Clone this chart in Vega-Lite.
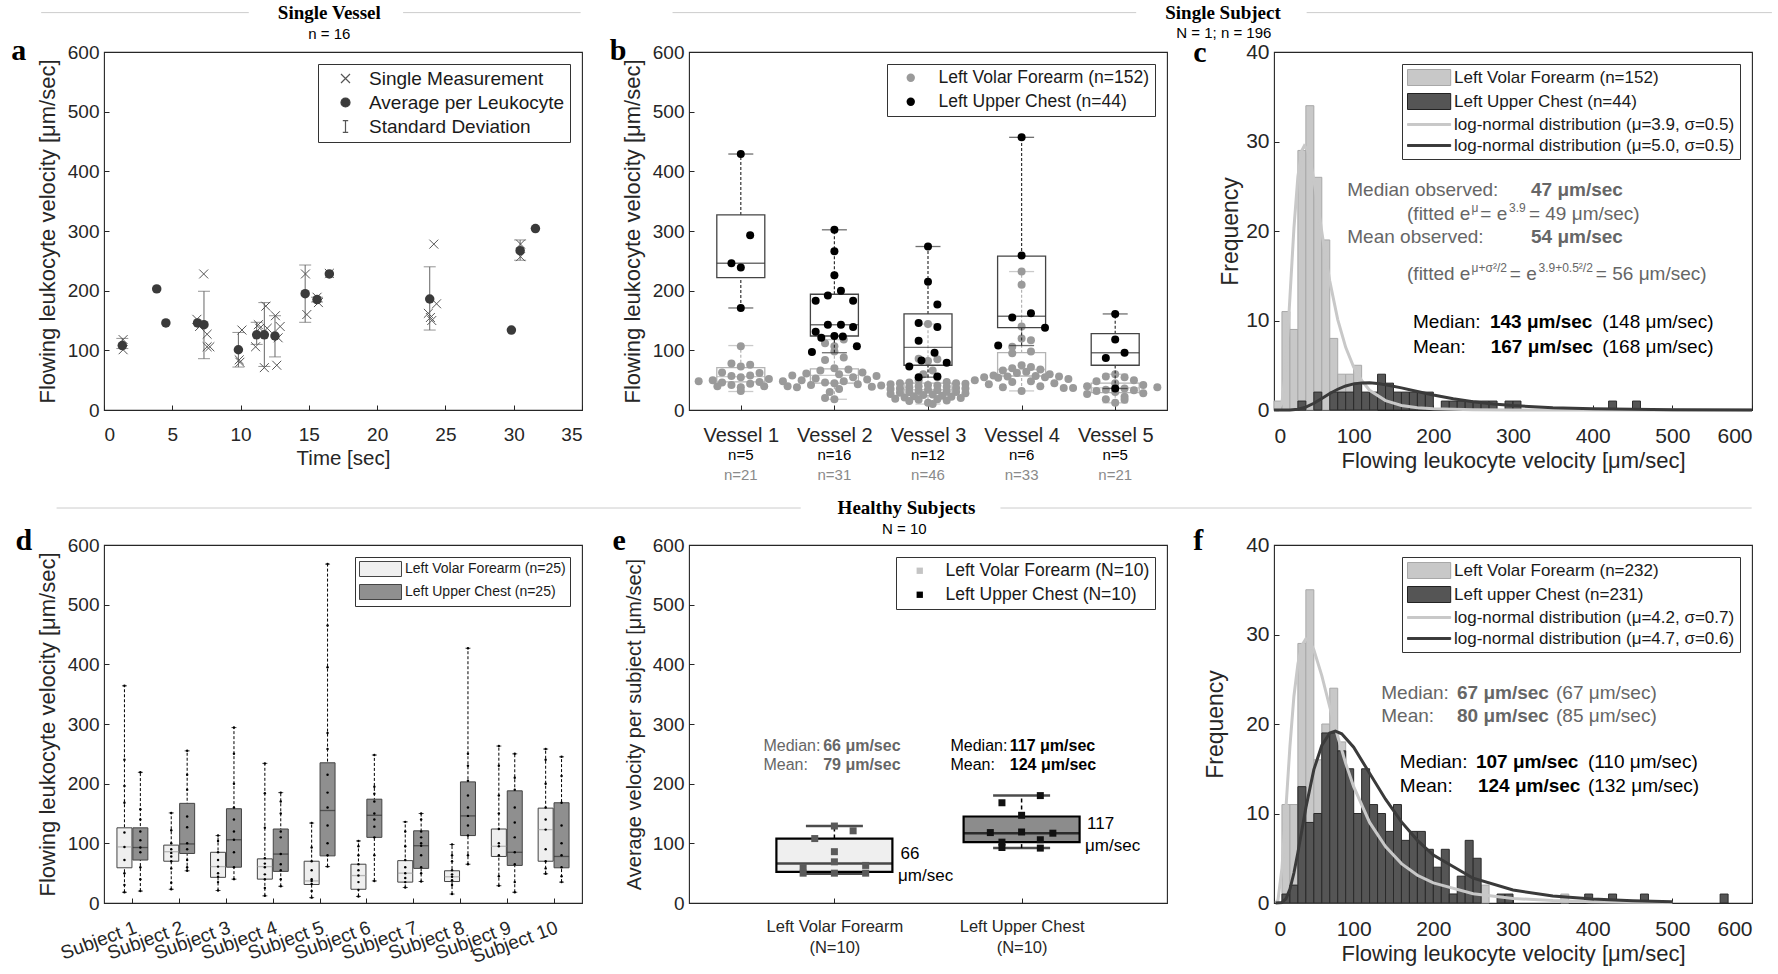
{
"$schema": "https://vega.github.io/schema/vega-lite/v6.json",
"background": "white",
"padding": {"left": 10, "top": 3, "right": 5, "bottom": 5},
"columns": 3,
"spacing": {"row": 135, "column": 107},
"bounds": "flush",
"resolve": {"scale": {"x": "independent", "y": "independent", "color": "independent", "shape": "independent", "fill": "independent", "stroke": "independent"}, "legend": {"color": "independent", "shape": "independent", "fill": "independent", "stroke": "independent"}, "axis": {"x": "independent", "y": "independent"}},
"datasets": {
"hl": [{"p":"a","x":-4.6,"x2":10.6,"y":666},{"p":"a","x":21.9,"x2":34.9,"y":666},{"p":"c","x":-755,"x2":-173,"y":44.4},{"p":"c","x":41,"x2":625,"y":44.4},{"p":"e","x":-3.155,"x2":0.82,"y":662},{"p":"e","x":1.887,"x2":5.9,"y":662}],
"hdr": [{"p":"a","k":"h","x":16.5,"y":666,"t":"Single Vessel"},{"p":"a","k":"s","x":16.5,"y":631,"t":"n = 16"},{"p":"c","k":"h","x":-64,"y":44.4,"t":"Single Subject"},{"p":"c","k":"s","x":-63,"y":42.1,"t":"N = 1; n = 196"},{"p":"e","k":"h","x":1.385,"y":662,"t":"Healthy Subjects"},{"p":"e","k":"s","x":1.374,"y":626,"t":"N = 10"},
{"p":"a","k":"L","x":-6.8,"y":586.6,"t":"a"},{"p":"b","k":"L","x":-0.40,"y":586.6,"t":"b"},{"p":"c","k":"L","x":-101.5,"y":38.85,"t":"c"},{"p":"d","k":"L","x":-1.5,"y":591.6,"t":"d"},{"p":"e","k":"L","x":-0.186,"y":591.6,"t":"e"},{"p":"f","k":"L","x":-101.5,"y":39.44,"t":"f"}],
"apts": [
{"x":1.34,"y":108,"k":"Average per Leukocyte"},{"x":3.86,"y":203,"k":"Average per Leukocyte"},{"x":4.53,"y":146,"k":"Average per Leukocyte"},{"x":6.85,"y":146,"k":"Average per Leukocyte"},{"x":7.32,"y":143,"k":"Average per Leukocyte"},{"x":9.84,"y":101,"k":"Average per Leukocyte"},{"x":11.18,"y":126,"k":"Average per Leukocyte"},{"x":11.74,"y":126,"k":"Average per Leukocyte"},{"x":12.52,"y":124,"k":"Average per Leukocyte"},{"x":14.73,"y":195,"k":"Average per Leukocyte"},{"x":15.6,"y":185,"k":"Average per Leukocyte"},{"x":16.5,"y":228,"k":"Average per Leukocyte"},{"x":23.85,"y":186,"k":"Average per Leukocyte"},{"x":29.83,"y":134,"k":"Average per Leukocyte"},{"x":30.47,"y":267,"k":"Average per Leukocyte"},{"x":31.59,"y":304,"k":"Average per Leukocyte"},
{"x":1.4,"y":118,"k":"Single Measurement"},{"x":1.4,"y":101,"k":"Single Measurement"},{"x":6.8,"y":152,"k":"Single Measurement"},{"x":7.0,"y":140,"k":"Single Measurement"},{"x":7.3,"y":228,"k":"Single Measurement"},{"x":7.55,"y":127,"k":"Single Measurement"},{"x":7.55,"y":106,"k":"Single Measurement"},{"x":7.75,"y":106,"k":"Single Measurement"},{"x":9.9,"y":84,"k":"Single Measurement"},{"x":9.95,"y":80,"k":"Single Measurement"},{"x":10.1,"y":134,"k":"Single Measurement"},{"x":11.1,"y":106,"k":"Single Measurement"},{"x":11.3,"y":143,"k":"Single Measurement"},{"x":11.4,"y":137,"k":"Single Measurement"},{"x":11.74,"y":71,"k":"Single Measurement"},{"x":11.85,"y":174,"k":"Single Measurement"},{"x":11.95,"y":137,"k":"Single Measurement"},{"x":12.55,"y":158,"k":"Single Measurement"},{"x":12.65,"y":75,"k":"Single Measurement"},{"x":12.75,"y":121,"k":"Single Measurement"},{"x":12.9,"y":140,"k":"Single Measurement"},{"x":14.75,"y":228,"k":"Single Measurement"},{"x":14.85,"y":160,"k":"Single Measurement"},{"x":15.6,"y":189,"k":"Single Measurement"},{"x":15.7,"y":180,"k":"Single Measurement"},{"x":16.5,"y":229,"k":"Single Measurement"},{"x":23.75,"y":162,"k":"Single Measurement"},{"x":23.9,"y":155,"k":"Single Measurement"},{"x":24.0,"y":150,"k":"Single Measurement"},{"x":24.15,"y":278,"k":"Single Measurement"},{"x":24.35,"y":178,"k":"Single Measurement"},{"x":30.5,"y":278,"k":"Single Measurement"},{"x":30.5,"y":257,"k":"Single Measurement"}],
"aerr": [{"x":1.34,"y":103,"hi":120},{"x":7.32,"y":86,"hi":199},{"x":9.84,"y":72,"hi":130},{"x":11.18,"y":110,"hi":147},{"x":11.74,"y":73,"hi":180},{"x":12.52,"y":89,"hi":158},{"x":14.73,"y":147,"hi":243},{"x":15.6,"y":181,"hi":189},{"x":23.85,"y":134,"hi":240},{"x":30.47,"y":251,"hi":285}],
"bb": [{"x":1,"g":"F","lo":31,"q1":47,"med":56,"q3":71,"hi":108},{"x":1,"g":"C","lo":171,"q1":222,"med":246,"q3":327,"hi":429},{"x":2,"g":"F","lo":18,"q1":45,"med":58,"q3":69,"hi":118},{"x":2,"g":"C","lo":96,"q1":124,"med":143,"q3":194,"hi":302},{"x":3,"g":"F","lo":10,"q1":24,"med":34,"q3":45,"hi":144},{"x":3,"g":"C","lo":55,"q1":75,"med":105,"q3":161,"hi":274},{"x":4,"g":"F","lo":32,"q1":57,"med":68,"q3":96,"hi":232},{"x":4,"g":"C","lo":108,"q1":138,"med":157,"q3":258,"hi":457},{"x":5,"g":"F","lo":12,"q1":29,"med":37,"q3":45,"hi":60},{"x":5,"g":"C","lo":36,"q1":75,"med":96,"q3":128,"hi":161}],
"bn": [{"x":1,"y":-75,"t":"n=5","g":"C"},{"x":2,"y":-75,"t":"n=16","g":"C"},{"x":3,"y":-75,"t":"n=12","g":"C"},{"x":4,"y":-75,"t":"n=6","g":"C"},{"x":5,"y":-75,"t":"n=5","g":"C"},{"x":1,"y":-109,"t":"n=21","g":"F"},{"x":2,"y":-109,"t":"n=31","g":"F"},{"x":3,"y":-109,"t":"n=46","g":"F"},{"x":4,"y":-109,"t":"n=33","g":"F"},{"x":5,"y":-109,"t":"n=21","g":"F"}],
"bp": [
{"x":1.0,"y":107,"g":"F"},{"x":0.9,"y":78,"g":"F"},{"x":1.1,"y":76,"g":"F"},{"x":1.0,"y":73,"g":"F"},{"x":0.8,"y":63,"g":"F"},{"x":1.2,"y":62,"g":"F"},{"x":1.1,"y":58,"g":"F"},{"x":0.9,"y":57,"g":"F"},{"x":1.0,"y":55,"g":"F"},{"x":1.3,"y":52,"g":"F"},{"x":0.7,"y":50,"g":"F"},{"x":0.55,"y":48,"g":"F"},{"x":1.45,"y":48,"g":"F"},{"x":1.2,"y":47,"g":"F"},{"x":0.8,"y":46,"g":"F"},{"x":1.1,"y":44,"g":"F"},{"x":0.9,"y":42,"g":"F"},{"x":0.75,"y":40,"g":"F"},{"x":1.25,"y":40,"g":"F"},{"x":1.0,"y":38,"g":"F"},{"x":1.0,"y":32,"g":"F"},
{"x":2.1,"y":118,"g":"F"},{"x":1.9,"y":112,"g":"F"},{"x":2.0,"y":107,"g":"F"},{"x":2.0,"y":98,"g":"F"},{"x":2.1,"y":88,"g":"F"},{"x":1.9,"y":84,"g":"F"},{"x":2.0,"y":70,"g":"F"},{"x":2.15,"y":68,"g":"F"},{"x":1.85,"y":66,"g":"F"},{"x":2.3,"y":63,"g":"F"},{"x":1.7,"y":61,"g":"F"},{"x":2.05,"y":60,"g":"F"},{"x":1.55,"y":58,"g":"F"},{"x":2.45,"y":57,"g":"F"},{"x":2.2,"y":55,"g":"F"},{"x":1.8,"y":53,"g":"F"},{"x":2.35,"y":51,"g":"F"},{"x":1.65,"y":50,"g":"F"},{"x":2.1,"y":48,"g":"F"},{"x":1.9,"y":46,"g":"F"},{"x":2.0,"y":45,"g":"F"},{"x":2.25,"y":43,"g":"F"},{"x":1.75,"y":42,"g":"F"},{"x":2.5,"y":41,"g":"F"},{"x":1.5,"y":40,"g":"F"},{"x":2.4,"y":39,"g":"F"},{"x":1.6,"y":38,"g":"F"},{"x":2.05,"y":35,"g":"F"},{"x":1.95,"y":30,"g":"F"},{"x":1.9,"y":20,"g":"F"},{"x":2.0,"y":18,"g":"F"},
{"x":3.0,"y":144,"g":"F"},{"x":2.9,"y":86,"g":"F"},{"x":3.1,"y":85,"g":"F"},{"x":3.0,"y":82,"g":"F"},{"x":3.05,"y":66,"g":"F"},{"x":2.95,"y":60,"g":"F"},{"x":3.1,"y":55,"g":"F"},{"x":2.9,"y":50,"g":"F"},{"x":3.2,"y":47,"g":"F"},{"x":2.8,"y":46,"g":"F"},{"x":3.3,"y":45,"g":"F"},{"x":2.7,"y":45,"g":"F"},{"x":3.4,"y":44,"g":"F"},{"x":2.6,"y":43,"g":"F"},{"x":3.0,"y":42,"g":"F"},{"x":3.1,"y":41,"g":"F"},{"x":2.9,"y":40,"g":"F"},{"x":3.2,"y":39,"g":"F"},{"x":2.8,"y":38,"g":"F"},{"x":3.3,"y":37,"g":"F"},{"x":2.7,"y":36,"g":"F"},{"x":3.4,"y":36,"g":"F"},{"x":2.6,"y":35,"g":"F"},{"x":3.0,"y":34,"g":"F"},{"x":3.1,"y":33,"g":"F"},{"x":2.9,"y":32,"g":"F"},{"x":3.2,"y":31,"g":"F"},{"x":2.8,"y":30,"g":"F"},{"x":3.3,"y":30,"g":"F"},{"x":2.7,"y":29,"g":"F"},{"x":3.4,"y":28,"g":"F"},{"x":2.6,"y":27,"g":"F"},{"x":3.05,"y":26,"g":"F"},{"x":2.95,"y":25,"g":"F"},{"x":3.15,"y":24,"g":"F"},{"x":2.85,"y":23,"g":"F"},{"x":3.25,"y":22,"g":"F"},{"x":2.75,"y":21,"g":"F"},{"x":3.35,"y":20,"g":"F"},{"x":2.65,"y":19,"g":"F"},{"x":3.1,"y":18,"g":"F"},{"x":2.9,"y":17,"g":"F"},{"x":3.2,"y":16,"g":"F"},{"x":2.8,"y":15,"g":"F"},{"x":3.0,"y":12,"g":"F"},{"x":3.05,"y":10,"g":"F"},
{"x":4.0,"y":232,"g":"F"},{"x":4.0,"y":210,"g":"F"},{"x":4.0,"y":140,"g":"F"},{"x":4.0,"y":120,"g":"F"},{"x":4.1,"y":117,"g":"F"},{"x":3.9,"y":106,"g":"F"},{"x":4.1,"y":98,"g":"F"},{"x":3.9,"y":95,"g":"F"},{"x":4.0,"y":75,"g":"F"},{"x":4.1,"y":72,"g":"F"},{"x":3.9,"y":70,"g":"F"},{"x":4.2,"y":68,"g":"F"},{"x":3.8,"y":66,"g":"F"},{"x":4.05,"y":64,"g":"F"},{"x":3.95,"y":62,"g":"F"},{"x":4.3,"y":60,"g":"F"},{"x":3.7,"y":58,"g":"F"},{"x":4.15,"y":57,"g":"F"},{"x":3.85,"y":56,"g":"F"},{"x":4.4,"y":56,"g":"F"},{"x":3.6,"y":55,"g":"F"},{"x":4.25,"y":55,"g":"F"},{"x":3.75,"y":54,"g":"F"},{"x":4.5,"y":52,"g":"F"},{"x":3.5,"y":50,"g":"F"},{"x":4.1,"y":48,"g":"F"},{"x":3.9,"y":47,"g":"F"},{"x":4.35,"y":45,"g":"F"},{"x":3.65,"y":43,"g":"F"},{"x":4.2,"y":40,"g":"F"},{"x":3.8,"y":38,"g":"F"},{"x":4.45,"y":37,"g":"F"},{"x":4.0,"y":32,"g":"F"},
{"x":5.0,"y":60,"g":"F"},{"x":4.9,"y":56,"g":"F"},{"x":5.1,"y":55,"g":"F"},{"x":5.2,"y":50,"g":"F"},{"x":4.8,"y":48,"g":"F"},{"x":5.0,"y":45,"g":"F"},{"x":5.3,"y":42,"g":"F"},{"x":4.7,"y":40,"g":"F"},{"x":5.45,"y":38,"g":"F"},{"x":4.55,"y":37,"g":"F"},{"x":5.1,"y":36,"g":"F"},{"x":4.9,"y":34,"g":"F"},{"x":5.2,"y":33,"g":"F"},{"x":4.8,"y":32,"g":"F"},{"x":5.0,"y":30,"g":"F"},{"x":5.3,"y":28,"g":"F"},{"x":4.7,"y":27,"g":"F"},{"x":5.1,"y":22,"g":"F"},{"x":4.9,"y":18,"g":"F"},{"x":5.1,"y":17,"g":"F"},{"x":5.0,"y":12,"g":"F"},
{"x":1.0,"y":429,"g":"C"},{"x":1.1,"y":293,"g":"C"},{"x":0.9,"y":246,"g":"C"},{"x":1.0,"y":239,"g":"C"},{"x":1.0,"y":171,"g":"C"},
{"x":2.0,"y":302,"g":"C"},{"x":2.0,"y":266,"g":"C"},{"x":2.0,"y":226,"g":"C"},{"x":2.07,"y":200,"g":"C"},{"x":1.93,"y":192,"g":"C"},{"x":1.8,"y":183,"g":"C"},{"x":2.2,"y":183,"g":"C"},{"x":1.93,"y":143,"g":"C"},{"x":2.07,"y":143,"g":"C"},{"x":2.2,"y":139,"g":"C"},{"x":1.8,"y":131,"g":"C"},{"x":2.0,"y":124,"g":"C"},{"x":1.86,"y":121,"g":"C"},{"x":2.09,"y":123,"g":"C"},{"x":2.24,"y":107,"g":"C"},{"x":1.76,"y":97,"g":"C"},
{"x":3.0,"y":274,"g":"C"},{"x":3.0,"y":215,"g":"C"},{"x":3.1,"y":177,"g":"C"},{"x":2.9,"y":146,"g":"C"},{"x":3.1,"y":139,"g":"C"},{"x":2.9,"y":116,"g":"C"},{"x":3.07,"y":96,"g":"C"},{"x":2.93,"y":83,"g":"C"},{"x":3.2,"y":79,"g":"C"},{"x":2.8,"y":73,"g":"C"},{"x":3.1,"y":56,"g":"C"},{"x":2.9,"y":55,"g":"C"},
{"x":4.0,"y":457,"g":"C"},{"x":4.0,"y":259,"g":"C"},{"x":4.1,"y":162,"g":"C"},{"x":3.9,"y":155,"g":"C"},{"x":4.25,"y":138,"g":"C"},{"x":3.75,"y":108,"g":"C"},
{"x":5.0,"y":161,"g":"C"},{"x":5.0,"y":118,"g":"C"},{"x":5.1,"y":96,"g":"C"},{"x":4.9,"y":87,"g":"C"},{"x":5.0,"y":36,"g":"C"}],
"ch": [{"x":0,"x2":10,"y":1,"s":"F"},{"x":10,"x2":20,"y":11,"s":"F"},{"x":20,"x2":30,"y":9,"s":"F"},{"x":30,"x2":40,"y":29,"s":"F"},{"x":40,"x2":50,"y":34,"s":"F"},{"x":50,"x2":60,"y":26,"s":"F"},{"x":60,"x2":70,"y":19,"s":"F"},{"x":70,"x2":80,"y":8,"s":"F"},{"x":80,"x2":90,"y":4,"s":"F"},{"x":90,"x2":100,"y":4,"s":"F"},{"x":100,"x2":110,"y":5,"s":"F"},{"x":110,"x2":120,"y":1,"s":"F"},{"x":120,"x2":130,"y":1,"s":"F"},
{"x":30,"x2":40,"y":1,"s":"C"},{"x":50,"x2":60,"y":2,"s":"C"},{"x":70,"x2":80,"y":2,"s":"C"},{"x":80,"x2":90,"y":2,"s":"C"},{"x":90,"x2":100,"y":2,"s":"C"},{"x":100,"x2":110,"y":3,"s":"C"},{"x":110,"x2":120,"y":2,"s":"C"},{"x":120,"x2":130,"y":2,"s":"C"},{"x":130,"x2":140,"y":4,"s":"C"},{"x":140,"x2":150,"y":3,"s":"C"},{"x":150,"x2":160,"y":2,"s":"C"},{"x":160,"x2":170,"y":2,"s":"C"},{"x":170,"x2":180,"y":2,"s":"C"},{"x":180,"x2":190,"y":2,"s":"C"},{"x":190,"x2":200,"y":2,"s":"C"},{"x":210,"x2":220,"y":1,"s":"C"},{"x":220,"x2":230,"y":1,"s":"C"},{"x":230,"x2":240,"y":1,"s":"C"},{"x":240,"x2":250,"y":1,"s":"C"},{"x":250,"x2":260,"y":1,"s":"C"},{"x":260,"x2":270,"y":1,"s":"C"},{"x":270,"x2":280,"y":1,"s":"C"},{"x":290,"x2":300,"y":1,"s":"C"},{"x":300,"x2":310,"y":1,"s":"C"},{"x":420,"x2":430,"y":1,"s":"C"},{"x":450,"x2":460,"y":1,"s":"C"}],
"cc": [{"x":2,"y":0,"s":"LF"},{"x":5,"y":0.01,"s":"LF"},{"x":10,"y":0.79,"s":"LF"},{"x":15,"y":5.0,"s":"LF"},{"x":20,"y":12.6,"s":"LF"},{"x":25,"y":20.3,"s":"LF"},{"x":30,"y":26.1,"s":"LF"},{"x":35,"y":29.0,"s":"LF"},{"x":38,"y":29.5,"s":"LF"},{"x":42,"y":29.1,"s":"LF"},{"x":46,"y":27.7,"s":"LF"},{"x":50,"y":25.7,"s":"LF"},{"x":55,"y":22.9,"s":"LF"},{"x":60,"y":19.9,"s":"LF"},{"x":65,"y":17.0,"s":"LF"},{"x":70,"y":14.4,"s":"LF"},{"x":80,"y":10.1,"s":"LF"},{"x":90,"y":7.0,"s":"LF"},{"x":100,"y":4.8,"s":"LF"},{"x":110,"y":3.3,"s":"LF"},{"x":120,"y":2.2,"s":"LF"},{"x":140,"y":1.05,"s":"LF"},{"x":160,"y":0.51,"s":"LF"},{"x":180,"y":0.25,"s":"LF"},{"x":200,"y":0.13,"s":"LF"},{"x":250,"y":0.03,"s":"LF"},{"x":300,"y":0.01,"s":"LF"},{"x":400,"y":0,"s":"LF"},{"x":600,"y":0,"s":"LF"},
{"x":0,"y":0,"s":"LC"},{"x":20,"y":0.01,"s":"LC"},{"x":30,"y":0.08,"s":"LC"},{"x":40,"y":0.32,"s":"LC"},{"x":50,"y":0.75,"s":"LC"},{"x":60,"y":1.29,"s":"LC"},{"x":70,"y":1.84,"s":"LC"},{"x":80,"y":2.32,"s":"LC"},{"x":90,"y":2.69,"s":"LC"},{"x":100,"y":2.92,"s":"LC"},{"x":110,"y":3.03,"s":"LC"},{"x":120,"y":3.04,"s":"LC"},{"x":130,"y":2.96,"s":"LC"},{"x":140,"y":2.83,"s":"LC"},{"x":160,"y":2.47,"s":"LC"},{"x":180,"y":2.06,"s":"LC"},{"x":200,"y":1.67,"s":"LC"},{"x":225,"y":1.25,"s":"LC"},{"x":250,"y":0.93,"s":"LC"},{"x":275,"y":0.68,"s":"LC"},{"x":300,"y":0.49,"s":"LC"},{"x":350,"y":0.26,"s":"LC"},{"x":400,"y":0.14,"s":"LC"},{"x":450,"y":0.08,"s":"LC"},{"x":500,"y":0.04,"s":"LC"},{"x":600,"y":0.01,"s":"LC"}],
"fh": [{"x":10,"x2":20,"y":11,"s":"F"},{"x":20,"x2":30,"y":11,"s":"F"},{"x":30,"x2":40,"y":29,"s":"F"},{"x":40,"x2":50,"y":35,"s":"F"},{"x":50,"x2":60,"y":16,"s":"F"},{"x":60,"x2":70,"y":20,"s":"F"},{"x":70,"x2":80,"y":24,"s":"F"},{"x":80,"x2":90,"y":18,"s":"F"},{"x":90,"x2":100,"y":13,"s":"F"},{"x":100,"x2":110,"y":9,"s":"F"},{"x":110,"x2":120,"y":8,"s":"F"},{"x":120,"x2":130,"y":7,"s":"F"},{"x":130,"x2":140,"y":5,"s":"F"},{"x":140,"x2":150,"y":4,"s":"F"},{"x":150,"x2":160,"y":3,"s":"F"},{"x":160,"x2":170,"y":3,"s":"F"},{"x":170,"x2":180,"y":2,"s":"F"},{"x":180,"x2":190,"y":2,"s":"F"},{"x":190,"x2":200,"y":2,"s":"F"},{"x":200,"x2":210,"y":2,"s":"F"},{"x":210,"x2":220,"y":1,"s":"F"},{"x":220,"x2":230,"y":1,"s":"F"},{"x":230,"x2":240,"y":1,"s":"F"},{"x":240,"x2":250,"y":1,"s":"F"},{"x":250,"x2":260,"y":1,"s":"F"},{"x":260,"x2":270,"y":2,"s":"F"},{"x":360,"x2":370,"y":1,"s":"F"},
{"x":10,"x2":20,"y":1,"s":"C"},{"x":20,"x2":30,"y":2,"s":"C"},{"x":30,"x2":40,"y":13,"s":"C"},{"x":40,"x2":50,"y":9,"s":"C"},{"x":50,"x2":60,"y":10,"s":"C"},{"x":60,"x2":70,"y":19,"s":"C"},{"x":70,"x2":80,"y":19,"s":"C"},{"x":80,"x2":90,"y":17,"s":"C"},{"x":90,"x2":100,"y":15,"s":"C"},{"x":100,"x2":110,"y":10,"s":"C"},{"x":110,"x2":120,"y":15,"s":"C"},{"x":120,"x2":130,"y":11,"s":"C"},{"x":130,"x2":140,"y":10,"s":"C"},{"x":140,"x2":150,"y":8,"s":"C"},{"x":150,"x2":160,"y":11,"s":"C"},{"x":160,"x2":170,"y":7,"s":"C"},{"x":170,"x2":180,"y":8,"s":"C"},{"x":180,"x2":190,"y":8,"s":"C"},{"x":190,"x2":200,"y":6,"s":"C"},{"x":200,"x2":210,"y":4,"s":"C"},{"x":210,"x2":220,"y":6,"s":"C"},{"x":220,"x2":230,"y":1,"s":"C"},{"x":230,"x2":240,"y":3,"s":"C"},{"x":240,"x2":250,"y":7,"s":"C"},{"x":250,"x2":260,"y":5,"s":"C"},{"x":280,"x2":290,"y":1,"s":"C"},{"x":290,"x2":300,"y":1,"s":"C"},{"x":390,"x2":400,"y":1,"s":"C"},{"x":420,"x2":430,"y":1,"s":"C"},{"x":460,"x2":470,"y":1,"s":"C"},{"x":560,"x2":570,"y":1,"s":"C"}],
"fc": [{"x":2,"y":0,"s":"LF"},{"x":5,"y":0.33,"s":"LF"},{"x":10,"y":3.9,"s":"LF"},{"x":15,"y":10.6,"s":"LF"},{"x":20,"y":17.5,"s":"LF"},{"x":25,"y":23.1,"s":"LF"},{"x":30,"y":26.7,"s":"LF"},{"x":35,"y":28.8,"s":"LF"},{"x":40,"y":29.5,"s":"LF"},{"x":45,"y":29.2,"s":"LF"},{"x":50,"y":28.3,"s":"LF"},{"x":60,"y":25.4,"s":"LF"},{"x":70,"y":21.9,"s":"LF"},{"x":80,"y":18.6,"s":"LF"},{"x":90,"y":15.6,"s":"LF"},{"x":100,"y":13.0,"s":"LF"},{"x":120,"y":9.0,"s":"LF"},{"x":140,"y":6.3,"s":"LF"},{"x":160,"y":4.4,"s":"LF"},{"x":180,"y":3.1,"s":"LF"},{"x":200,"y":2.25,"s":"LF"},{"x":250,"y":1.04,"s":"LF"},{"x":300,"y":0.51,"s":"LF"},{"x":350,"y":0.27,"s":"LF"},{"x":400,"y":0.15,"s":"LF"},{"x":450,"y":0.08,"s":"LF"},{"x":500,"y":0.05,"s":"LF"},
{"x":2,"y":0,"s":"LC"},{"x":10,"y":0.06,"s":"LC"},{"x":15,"y":0.47,"s":"LC"},{"x":20,"y":1.56,"s":"LC"},{"x":25,"y":3.35,"s":"LC"},{"x":30,"y":5.64,"s":"LC"},{"x":40,"y":10.65,"s":"LC"},{"x":50,"y":14.9,"s":"LC"},{"x":60,"y":17.6,"s":"LC"},{"x":70,"y":19.0,"s":"LC"},{"x":77,"y":19.2,"s":"LC"},{"x":85,"y":18.9,"s":"LC"},{"x":100,"y":17.4,"s":"LC"},{"x":120,"y":14.5,"s":"LC"},{"x":140,"y":11.6,"s":"LC"},{"x":160,"y":9.06,"s":"LC"},{"x":180,"y":7.0,"s":"LC"},{"x":200,"y":5.36,"s":"LC"},{"x":250,"y":2.77,"s":"LC"},{"x":300,"y":1.45,"s":"LC"},{"x":350,"y":0.78,"s":"LC"},{"x":400,"y":0.44,"s":"LC"},{"x":450,"y":0.25,"s":"LC"},{"x":500,"y":0.15,"s":"LC"}],
"tx": [
{"p":"c","k":"gn","x":92,"y":24.6,"t":"Median observed:"},{"p":"c","k":"gb","x":322.6,"y":24.6,"t":"47 μm/sec"},{"p":"c","k":"gn","x":167,"y":21.9,"t":"(fitted e"},{"p":"c","k":"gs","x":248,"y":22.6,"t":"μ"},{"p":"c","k":"gn","x":259,"y":21.9,"t":"= e"},{"p":"c","k":"gs","x":295,"y":22.6,"t":"3.9"},{"p":"c","k":"gn","x":320,"y":21.9,"t":"= 49 μm/sec)"},
{"p":"c","k":"gn","x":92,"y":19.3,"t":"Mean observed:"},{"p":"c","k":"gb","x":322.6,"y":19.3,"t":"54 μm/sec"},{"p":"c","k":"gn","x":167,"y":15.2,"t":"(fitted e"},{"p":"c","k":"gs","x":248,"y":15.9,"t":"μ+σ²/2"},{"p":"c","k":"gn","x":296,"y":15.2,"t":"= e"},{"p":"c","k":"gs","x":332,"y":15.9,"t":"3.9+0.5²/2"},{"p":"c","k":"gn","x":404,"y":15.2,"t":"= 56 μm/sec)"},
{"p":"c","k":"kn","x":174.5,"y":9.8,"t":"Median:"},{"p":"c","k":"kb","x":271,"y":9.8,"t":"143 μm/sec"},{"p":"c","k":"kn","x":412,"y":9.8,"t":"(148 μm/sec)"},{"p":"c","k":"kn","x":174.5,"y":7.0,"t":"Mean:"},{"p":"c","k":"kb","x":272,"y":7.0,"t":"167 μm/sec"},{"p":"c","k":"kn","x":412,"y":7.0,"t":"(168 μm/sec)"},
{"p":"f","k":"gn","x":134.6,"y":23.5,"t":"Median:"},{"p":"f","k":"gb","x":229.7,"y":23.5,"t":"67 μm/sec"},{"p":"f","k":"gn","x":354,"y":23.5,"t":"(67 μm/sec)"},{"p":"f","k":"gn","x":134.6,"y":20.9,"t":"Mean:"},{"p":"f","k":"gb","x":229.7,"y":20.9,"t":"80 μm/sec"},{"p":"f","k":"gn","x":354,"y":20.9,"t":"(85 μm/sec)"},
{"p":"f","k":"kn","x":158,"y":15.7,"t":"Median:"},{"p":"f","k":"kb","x":253.5,"y":15.7,"t":"107 μm/sec"},{"p":"f","k":"kn","x":394,"y":15.7,"t":"(110 μm/sec)"},{"p":"f","k":"kn","x":158,"y":13.1,"t":"Mean:"},{"p":"f","k":"kb","x":256,"y":13.1,"t":"124 μm/sec"},{"p":"f","k":"kn","x":394,"y":13.1,"t":"(132 μm/sec)"},
{"p":"e","k":"gn","x":0.621,"y":263,"t":"Median:"},{"p":"e","k":"gb","x":0.94,"y":263,"t":"66 μm/sec"},{"p":"e","k":"gn","x":0.621,"y":231,"t":"Mean:"},{"p":"e","k":"gb","x":0.94,"y":231,"t":"79 μm/sec"},
{"p":"e","k":"kn","x":1.62,"y":263,"t":"Median:"},{"p":"e","k":"kb","x":1.937,"y":263,"t":"117 μm/sec"},{"p":"e","k":"kn","x":1.62,"y":231,"t":"Mean:"},{"p":"e","k":"kb","x":1.937,"y":231,"t":"124 μm/sec"},
{"p":"e","k":"r","x":1.353,"y":82,"t":"66"},{"p":"e","k":"r","x":1.34,"y":45,"t":"μm/sec"},{"p":"e","k":"r","x":2.35,"y":132,"t":"117"},{"p":"e","k":"r","x":2.339,"y":95,"t":"μm/sec"}],
"db": [
{"x":0.83,"g":"F","lo":18,"q1":59,"med":94,"q3":126,"hi":364},{"x":1.17,"g":"C","lo":20,"q1":72,"med":93,"q3":126,"hi":219},
{"x":1.83,"g":"F","lo":23,"q1":70,"med":86,"q3":97,"hi":151},{"x":2.17,"g":"C","lo":54,"q1":83,"med":99,"q3":167,"hi":255},
{"x":2.83,"g":"F","lo":21,"q1":43,"med":61,"q3":85,"hi":113},{"x":3.17,"g":"C","lo":40,"q1":60,"med":106,"q3":158,"hi":294},
{"x":3.83,"g":"F","lo":12,"q1":40,"med":61,"q3":74,"hi":234},{"x":4.17,"g":"C","lo":28,"q1":53,"med":82,"q3":124,"hi":185},
{"x":4.83,"g":"F","lo":9,"q1":31,"med":37,"q3":70,"hi":134},{"x":5.17,"g":"C","lo":61,"q1":79,"med":155,"q3":235,"hi":568},
{"x":5.83,"g":"F","lo":11,"q1":23,"med":46,"q3":65,"hi":104},{"x":6.17,"g":"C","lo":37,"q1":110,"med":147,"q3":174,"hi":248},
{"x":6.83,"g":"F","lo":26,"q1":35,"med":50,"q3":71,"hi":136},{"x":7.17,"g":"C","lo":36,"q1":58,"med":96,"q3":121,"hi":150},
{"x":7.83,"g":"F","lo":15,"q1":36,"med":44,"q3":54,"hi":98},{"x":8.17,"g":"C","lo":65,"q1":113,"med":146,"q3":203,"hi":427},
{"x":8.83,"g":"F","lo":29,"q1":78,"med":95,"q3":124,"hi":263},{"x":9.17,"g":"C","lo":18,"q1":63,"med":85,"q3":188,"hi":250},
{"x":9.83,"g":"F","lo":49,"q1":70,"med":123,"q3":159,"hi":258},{"x":10.17,"g":"C","lo":35,"q1":59,"med":78,"q3":168,"hi":245}],
"dp": [
{"x":0.83,"y":364},{"x":0.83,"y":240},{"x":0.83,"y":196},{"x":0.83,"y":168},{"x":0.83,"y":118},{"x":0.83,"y":94},{"x":0.83,"y":72},{"x":0.83,"y":50},{"x":0.83,"y":30},{"x":0.83,"y":18},
{"x":1.17,"y":219},{"x":1.17,"y":157},{"x":1.17,"y":140},{"x":1.17,"y":120},{"x":1.17,"y":105},{"x":1.17,"y":93},{"x":1.17,"y":85},{"x":1.17,"y":60},{"x":1.17,"y":40},{"x":1.17,"y":20},
{"x":1.83,"y":151},{"x":1.83,"y":122},{"x":1.83,"y":100},{"x":1.83,"y":90},{"x":1.83,"y":84},{"x":1.83,"y":78},{"x":1.83,"y":70},{"x":1.83,"y":58},{"x":1.83,"y":34},{"x":1.83,"y":23},
{"x":2.17,"y":255},{"x":2.17,"y":215},{"x":2.17,"y":190},{"x":2.17,"y":145},{"x":2.17,"y":127},{"x":2.17,"y":100},{"x":2.17,"y":90},{"x":2.17,"y":72},{"x":2.17,"y":60},{"x":2.17,"y":54},
{"x":2.83,"y":113},{"x":2.83,"y":104},{"x":2.83,"y":85},{"x":2.83,"y":72},{"x":2.83,"y":61},{"x":2.83,"y":50},{"x":2.83,"y":44},{"x":2.83,"y":35},{"x":2.83,"y":21},
{"x":3.17,"y":294},{"x":3.17,"y":250},{"x":3.17,"y":200},{"x":3.17,"y":160},{"x":3.17,"y":140},{"x":3.17,"y":120},{"x":3.17,"y":106},{"x":3.17,"y":85},{"x":3.17,"y":60},{"x":3.17,"y":40},
{"x":3.83,"y":234},{"x":3.83,"y":184},{"x":3.83,"y":126},{"x":3.83,"y":75},{"x":3.83,"y":66},{"x":3.83,"y":60},{"x":3.83,"y":48},{"x":3.83,"y":40},{"x":3.83,"y":25},{"x":3.83,"y":12},
{"x":4.17,"y":185},{"x":4.17,"y":170},{"x":4.17,"y":150},{"x":4.17,"y":120},{"x":4.17,"y":110},{"x":4.17,"y":82},{"x":4.17,"y":65},{"x":4.17,"y":55},{"x":4.17,"y":40},{"x":4.17,"y":28},
{"x":4.83,"y":134},{"x":4.83,"y":93},{"x":4.83,"y":70},{"x":4.83,"y":55},{"x":4.83,"y":40},{"x":4.83,"y":37},{"x":4.83,"y":32},{"x":4.83,"y":20},{"x":4.83,"y":9},
{"x":5.17,"y":568},{"x":5.17,"y":465},{"x":5.17,"y":395},{"x":5.17,"y":285},{"x":5.17,"y":258},{"x":5.17,"y":215},{"x":5.17,"y":185},{"x":5.17,"y":160},{"x":5.17,"y":130},{"x":5.17,"y":100},{"x":5.17,"y":80},{"x":5.17,"y":61},
{"x":5.83,"y":104},{"x":5.83,"y":95},{"x":5.83,"y":80},{"x":5.83,"y":65},{"x":5.83,"y":55},{"x":5.83,"y":46},{"x":5.83,"y":35},{"x":5.83,"y":22},{"x":5.83,"y":11},
{"x":6.17,"y":248},{"x":6.17,"y":195},{"x":6.17,"y":183},{"x":6.17,"y":170},{"x":6.17,"y":150},{"x":6.17,"y":140},{"x":6.17,"y":128},{"x":6.17,"y":110},{"x":6.17,"y":80},{"x":6.17,"y":37},
{"x":6.83,"y":136},{"x":6.83,"y":120},{"x":6.83,"y":95},{"x":6.83,"y":72},{"x":6.83,"y":60},{"x":6.83,"y":50},{"x":6.83,"y":42},{"x":6.83,"y":35},{"x":6.83,"y":26},
{"x":7.17,"y":150},{"x":7.17,"y":140},{"x":7.17,"y":120},{"x":7.17,"y":110},{"x":7.17,"y":100},{"x":7.17,"y":96},{"x":7.17,"y":80},{"x":7.17,"y":60},{"x":7.17,"y":50},{"x":7.17,"y":36},
{"x":7.83,"y":98},{"x":7.83,"y":80},{"x":7.83,"y":70},{"x":7.83,"y":55},{"x":7.83,"y":48},{"x":7.83,"y":44},{"x":7.83,"y":38},{"x":7.83,"y":30},{"x":7.83,"y":15},
{"x":8.17,"y":427},{"x":8.17,"y":250},{"x":8.17,"y":230},{"x":8.17,"y":205},{"x":8.17,"y":180},{"x":8.17,"y":160},{"x":8.17,"y":146},{"x":8.17,"y":130},{"x":8.17,"y":113},{"x":8.17,"y":80},{"x":8.17,"y":65},
{"x":8.83,"y":263},{"x":8.83,"y":230},{"x":8.83,"y":180},{"x":8.83,"y":150},{"x":8.83,"y":124},{"x":8.83,"y":100},{"x":8.83,"y":95},{"x":8.83,"y":80},{"x":8.83,"y":45},{"x":8.83,"y":29},
{"x":9.17,"y":250},{"x":9.17,"y":210},{"x":9.17,"y":190},{"x":9.17,"y":160},{"x":9.17,"y":135},{"x":9.17,"y":110},{"x":9.17,"y":85},{"x":9.17,"y":65},{"x":9.17,"y":35},{"x":9.17,"y":18},
{"x":9.83,"y":258},{"x":9.83,"y":240},{"x":9.83,"y":200},{"x":9.83,"y":160},{"x":9.83,"y":140},{"x":9.83,"y":123},{"x":9.83,"y":90},{"x":9.83,"y":70},{"x":9.83,"y":58},{"x":9.83,"y":49},
{"x":10.17,"y":245},{"x":10.17,"y":213},{"x":10.17,"y":168},{"x":10.17,"y":130},{"x":10.17,"y":100},{"x":10.17,"y":80},{"x":10.17,"y":60},{"x":10.17,"y":45},{"x":10.17,"y":35}],
"eb": [{"x":1,"g":"F","lo":49,"q1":52,"med":66,"q3":108,"hi":129},{"x":2,"g":"C","lo":92,"q1":102,"med":117,"q3":145,"hi":180}],
"ep": [{"x":1.0,"y":129,"g":"F"},{"x":1.1,"y":121,"g":"F"},{"x":0.895,"y":108,"g":"F"},{"x":1.0,"y":86,"g":"F"},{"x":1.0,"y":69,"g":"F"},{"x":0.833,"y":60,"g":"F"},{"x":0.833,"y":50,"g":"F"},{"x":1.0,"y":50,"g":"F"},{"x":1.167,"y":63,"g":"F"},{"x":1.167,"y":50,"g":"F"},
{"x":2.1,"y":180,"g":"C"},{"x":1.895,"y":168,"g":"C"},{"x":2.0,"y":147,"g":"C"},{"x":1.833,"y":118,"g":"C"},{"x":2.0,"y":119,"g":"C"},{"x":2.167,"y":117,"g":"C"},{"x":1.895,"y":102,"g":"C"},{"x":1.895,"y":93,"g":"C"},{"x":2.1,"y":92,"g":"C"},{"x":2.1,"y":106,"g":"C"}]
},
"concat": [
{
 "width": 478, "height": 358,
 "encoding": {
  "x": {"field": "x", "type": "quantitative", "scale": {"domain": [0, 35], "nice": false, "zero": false}, "axis": {"values": [0,5,10,15,20,25,30,35], "title": "Time [sec]", "titleFontSize": 20.5}},
  "y": {"field": "y", "type": "quantitative", "scale": {"domain": [0, 600], "nice": false}, "axis": {"values": [0,100,200,300,400,500,600], "title": "Flowing leukocyte velocity [μm/sec]"}}
 },
 "layer": [
  {"data": {"name": "hl"}, "transform": [{"filter": "datum.p == 'a'"}], "mark": {"type": "rule", "color": "#cccccc", "strokeWidth": 1}, "encoding": {"x2": {"field": "x2"}}},
  {"data": {"name": "hdr"}, "transform": [{"filter": "datum.p == 'a' && datum.k == 'h'"}], "mark": {"type": "text", "font": "Liberation Serif", "fontWeight": "bold", "fontSize": 19, "color": "#000", "baseline": "middle"}, "encoding": {"text": {"field": "t"}}},
  {"data": {"name": "hdr"}, "transform": [{"filter": "datum.p == 'a' && datum.k == 's'"}], "mark": {"type": "text", "fontSize": 15, "color": "#000", "baseline": "middle"}, "encoding": {"text": {"field": "t"}}},
  {"data": {"name": "hdr"}, "transform": [{"filter": "datum.p == 'a' && datum.k == 'L'"}], "mark": {"type": "text", "font": "Liberation Serif", "fontWeight": "bold", "fontSize": 30, "color": "#000", "align": "left", "baseline": "alphabetic"}, "encoding": {"text": {"field": "t"}}},
  {"data": {"name": "aerr"}, "mark": {"type": "rule", "color": "#666666", "strokeWidth": 1}, "encoding": {"y2": {"field": "hi"}}},
  {"data": {"name": "aerr"}, "mark": {"type": "tick", "orient": "horizontal", "size": 12, "thickness": 1, "color": "#666666"}},
  {"data": {"name": "aerr"}, "mark": {"type": "tick", "orient": "horizontal", "size": 12, "thickness": 1, "color": "#666666"}, "encoding": {"y": {"field": "hi", "type": "quantitative", "title": "Flowing leukocyte velocity [μm/sec]"}}},
  {"data": {"name": "apts"}, "transform": [{"filter": "datum.k == 'Single Measurement'"}], "mark": {"type": "point", "shape": "M-1,-1L1,1M-1,1L1,-1", "filled": false, "color": "#555555", "strokeWidth": 1, "size": 80, "opacity": 1}},
  {"data": {"name": "apts"}, "transform": [{"filter": "datum.k == 'Average per Leukocyte'"}], "mark": {"type": "point", "shape": "circle", "filled": true, "color": "#3a3a3a", "size": 90, "opacity": 1}},
  {"data": {"name": "apts"}, "mark": {"type": "point", "opacity": 0, "strokeWidth": 1.2},
   "encoding": {
    "shape": {"field": "k", "type": "nominal", "scale": {"domain": ["Single Measurement", "Average per Leukocyte", "Standard Deviation"], "range": ["M-1,-1L1,1M-1,1L1,-1", "circle", "M-0.6,-1.3H0.6M0,-1.3V1.3M-0.6,1.3H0.6"]},
     "legend": {"title": null, "labelFontSize": 19, "symbolSize": 81, "symbolOpacity": 1, "symbolStrokeWidth": 1.2, "rowPadding": 4, "padding": 5, "symbolOffset": 13, "labelOffset": 14}},
    "fill": {"field": "k", "type": "nominal", "scale": {"domain": ["Single Measurement", "Average per Leukocyte", "Standard Deviation"], "range": ["transparent", "#3a3a3a", "transparent"]}, "legend": {"title": null}},
    "stroke": {"field": "k", "type": "nominal", "scale": {"domain": ["Single Measurement", "Average per Leukocyte", "Standard Deviation"], "range": ["#555555", "#3a3a3a", "#555555"]}, "legend": {"title": null}}
   }}
 ]
},
{
 "width": 478, "height": 358,
 "encoding": {
  "x": {"field": "x", "type": "quantitative", "scale": {"domain": [0.5, 5.5], "nice": false, "zero": false}, "axis": {"values": [1,2,3,4,5], "labelExpr": "'Vessel ' + datum.value", "title": null, "labelFontSize": 20}},
  "y": {"field": "y", "type": "quantitative", "scale": {"domain": [0, 600], "nice": false}, "axis": {"values": [0,100,200,300,400,500,600], "title": "Flowing leukocyte velocity [μm/sec]"}}
 },
 "layer": [
  {"data": {"name": "hdr"}, "transform": [{"filter": "datum.p == 'b' && datum.k == 'L'"}], "mark": {"type": "text", "font": "Liberation Serif", "fontWeight": "bold", "fontSize": 30, "color": "#000", "align": "left", "baseline": "alphabetic"}, "encoding": {"text": {"field": "t"}}},
  {"data": {"name": "bn"}, "transform": [{"filter": "datum.g == 'C'"}], "mark": {"type": "text", "fontSize": 15, "color": "#000", "baseline": "middle"}, "encoding": {"text": {"field": "t"}}},
  {"data": {"name": "bn"}, "transform": [{"filter": "datum.g == 'F'"}], "mark": {"type": "text", "fontSize": 15, "color": "#8a8a8a", "baseline": "middle"}, "encoding": {"text": {"field": "t"}}},
  {"data": {"name": "bb"}, "transform": [{"filter": "datum.g == 'F'"}], "mark": {"type": "rule", "strokeDash": [3, 2], "strokeWidth": 1.2, "color": "#b4b4b4"}, "encoding": {"y": {"field": "lo", "type": "quantitative", "title": "Flowing leukocyte velocity [μm/sec]"}, "y2": {"field": "q1"}}},
  {"data": {"name": "bb"}, "transform": [{"filter": "datum.g == 'F'"}], "mark": {"type": "rule", "strokeDash": [3, 2], "strokeWidth": 1.2, "color": "#b4b4b4"}, "encoding": {"y": {"field": "q3", "type": "quantitative", "title": "Flowing leukocyte velocity [μm/sec]"}, "y2": {"field": "hi"}}},
  {"data": {"name": "bb"}, "transform": [{"filter": "datum.g == 'F'"}], "mark": {"type": "bar", "size": 48, "fill": "transparent", "stroke": "#b4b4b4", "strokeWidth": 1.3}, "encoding": {"y": {"field": "q1", "type": "quantitative", "title": "Flowing leukocyte velocity [μm/sec]"}, "y2": {"field": "q3"}}},
  {"data": {"name": "bb"}, "transform": [{"filter": "datum.g == 'F'"}], "mark": {"type": "tick", "orient": "horizontal", "size": 48, "thickness": 1.4, "color": "#b4b4b4"}, "encoding": {"y": {"field": "med", "type": "quantitative", "title": "Flowing leukocyte velocity [μm/sec]"}}},
  {"data": {"name": "bb"}, "transform": [{"filter": "datum.g == 'F'"}], "mark": {"type": "tick", "orient": "horizontal", "size": 25, "thickness": 1.3, "color": "#b4b4b4"}, "encoding": {"y": {"field": "lo", "type": "quantitative", "title": "Flowing leukocyte velocity [μm/sec]"}}},
  {"data": {"name": "bb"}, "transform": [{"filter": "datum.g == 'F'"}], "mark": {"type": "tick", "orient": "horizontal", "size": 25, "thickness": 1.3, "color": "#b4b4b4"}, "encoding": {"y": {"field": "hi", "type": "quantitative", "title": "Flowing leukocyte velocity [μm/sec]"}}},
  {"data": {"name": "bp"}, "transform": [{"filter": "datum.g == 'F'"}], "mark": {"type": "point", "filled": true, "size": 64, "opacity": 1},
   "encoding": {"color": {"field": "g", "type": "nominal", "scale": {"domain": ["F", "C"], "range": ["#9a9a9a", "#000000"]},
    "legend": {"title": null, "labelExpr": "datum.value == 'F' ? 'Left Volar Forearm (n=152)' : 'Left Upper Chest (n=44)'", "labelFontSize": 17.5, "symbolSize": 70, "symbolType": "circle", "rowPadding": 5, "padding": 5, "symbolOffset": 10, "labelOffset": 19}}}},
  {"data": {"name": "bb"}, "transform": [{"filter": "datum.g == 'C'"}], "mark": {"type": "rule", "strokeDash": [3, 2], "strokeWidth": 1.2, "color": "#333333"}, "encoding": {"y": {"field": "lo", "type": "quantitative", "title": "Flowing leukocyte velocity [μm/sec]"}, "y2": {"field": "q1"}}},
  {"data": {"name": "bb"}, "transform": [{"filter": "datum.g == 'C'"}], "mark": {"type": "rule", "strokeDash": [3, 2], "strokeWidth": 1.2, "color": "#333333"}, "encoding": {"y": {"field": "q3", "type": "quantitative", "title": "Flowing leukocyte velocity [μm/sec]"}, "y2": {"field": "hi"}}},
  {"data": {"name": "bb"}, "transform": [{"filter": "datum.g == 'C'"}], "mark": {"type": "bar", "size": 48, "fill": "transparent", "stroke": "#444444", "strokeWidth": 1.3}, "encoding": {"y": {"field": "q1", "type": "quantitative", "title": "Flowing leukocyte velocity [μm/sec]"}, "y2": {"field": "q3"}}},
  {"data": {"name": "bb"}, "transform": [{"filter": "datum.g == 'C'"}], "mark": {"type": "tick", "orient": "horizontal", "size": 48, "thickness": 1.4, "color": "#333333"}, "encoding": {"y": {"field": "med", "type": "quantitative", "title": "Flowing leukocyte velocity [μm/sec]"}}},
  {"data": {"name": "bb"}, "transform": [{"filter": "datum.g == 'C'"}], "mark": {"type": "tick", "orient": "horizontal", "size": 25, "thickness": 1.3, "color": "#333333"}, "encoding": {"y": {"field": "lo", "type": "quantitative", "title": "Flowing leukocyte velocity [μm/sec]"}}},
  {"data": {"name": "bb"}, "transform": [{"filter": "datum.g == 'C'"}], "mark": {"type": "tick", "orient": "horizontal", "size": 25, "thickness": 1.3, "color": "#333333"}, "encoding": {"y": {"field": "hi", "type": "quantitative", "title": "Flowing leukocyte velocity [μm/sec]"}}},
  {"data": {"name": "bp"}, "transform": [{"filter": "datum.g == 'C'"}], "mark": {"type": "point", "filled": true, "size": 64, "opacity": 1, "color": "#000000"}}
 ]
},
{
 "width": 478, "height": 358,
 "encoding": {
  "x": {"field": "x", "type": "quantitative", "scale": {"domain": [0, 600], "nice": false, "zero": false}, "axis": {"values": [0,100,200,300,400,500,600], "title": "Flowing leukocyte velocity [μm/sec]", "labelFontSize": 21}},
  "y": {"field": "y", "type": "quantitative", "scale": {"domain": [0, 40], "nice": false}, "axis": {"values": [0,10,20,30,40], "title": "Frequency", "labelFontSize": 21, "titleFontSize": 23, "titlePadding": 3}}
 },
 "layer": [
  {"data": {"name": "hl"}, "transform": [{"filter": "datum.p == 'c'"}], "mark": {"type": "rule", "color": "#cccccc", "strokeWidth": 1}, "encoding": {"x2": {"field": "x2"}}},
  {"data": {"name": "hdr"}, "transform": [{"filter": "datum.p == 'c' && datum.k == 'h'"}], "mark": {"type": "text", "font": "Liberation Serif", "fontWeight": "bold", "fontSize": 19, "color": "#000", "baseline": "middle"}, "encoding": {"text": {"field": "t"}}},
  {"data": {"name": "hdr"}, "transform": [{"filter": "datum.p == 'c' && datum.k == 's'"}], "mark": {"type": "text", "fontSize": 15, "color": "#000", "baseline": "middle"}, "encoding": {"text": {"field": "t"}}},
  {"data": {"name": "hdr"}, "transform": [{"filter": "datum.p == 'c' && datum.k == 'L'"}], "mark": {"type": "text", "font": "Liberation Serif", "fontWeight": "bold", "fontSize": 30, "color": "#000", "align": "left", "baseline": "alphabetic"}, "encoding": {"text": {"field": "t"}}},
  {"data": {"name": "ch"}, "transform": [{"filter": "datum.s == 'F'"}], "mark": {"type": "bar", "color": "#c8c8c8", "stroke": "#a8a8a8", "strokeWidth": 1, "opacity": 1}, "encoding": {"x2": {"field": "x2"}, "y2": {"datum": 0}}},
  {"data": {"name": "ch"}, "transform": [{"filter": "datum.s == 'C'"}], "mark": {"type": "bar", "color": "#555555", "stroke": "#2a2a2a", "strokeWidth": 1, "opacity": 1}, "encoding": {"x2": {"field": "x2"}, "y2": {"datum": 0}}},
  {"data": {"name": "cc"}, "transform": [{"filter": "datum.s == 'LF'"}], "mark": {"type": "line", "strokeWidth": 3, "color": "#c8c8c8"}},
  {"data": {"name": "cc"}, "transform": [{"filter": "datum.s == 'LC'"}], "mark": {"type": "line", "strokeWidth": 3, "color": "#3a3a3a"}},
  {"data": {"name": "cc"}, "mark": {"type": "point", "opacity": 0, "strokeWidth": 1},
   "encoding": {
    "shape": {"field": "s", "type": "nominal", "scale": {"domain": ["F", "C", "LF", "LC"], "range": ["M-1,-1H4.4V1H-1Z", "M-1,-1H4.4V1H-1Z", "M-1,-0.12H4.4V0.12H-1Z", "M-1,-0.12H4.4V0.12H-1Z"]},
     "legend": {"title": null, "labelExpr": "datum.value == 'F' ? 'Left Volar Forearm (n=152)' : datum.value == 'C' ? 'Left Upper Chest (n=44)' : datum.value == 'LF' ? 'log-normal distribution (μ=3.9, σ=0.5)' : 'log-normal distribution (μ=5.0, σ=0.5)'", "labelFontSize": 17, "symbolSize": 256, "symbolOpacity": 1, "symbolStrokeWidth": 1, "rowPadding": 3, "padding": 5, "symbolOffset": 0, "labelOffset": 30}},
    "fill": {"field": "s", "type": "nominal", "scale": {"domain": ["F", "C", "LF", "LC"], "range": ["#c8c8c8", "#555555", "#c8c8c8", "#3a3a3a"]}, "legend": {"title": null}},
    "stroke": {"field": "s", "type": "nominal", "scale": {"domain": ["F", "C", "LF", "LC"], "range": ["#a8a8a8", "#222222", "#c8c8c8", "#3a3a3a"]}, "legend": {"title": null}}
   }},
  {"data": {"name": "tx"}, "transform": [{"filter": "datum.p == 'c' && datum.k == 'gn'"}], "mark": {"type": "text", "fontSize": 19, "color": "#666666", "align": "left", "baseline": "middle"}, "encoding": {"text": {"field": "t"}}},
  {"data": {"name": "tx"}, "transform": [{"filter": "datum.p == 'c' && datum.k == 'gb'"}], "mark": {"type": "text", "fontSize": 19, "fontWeight": "bold", "color": "#666666", "align": "left", "baseline": "middle"}, "encoding": {"text": {"field": "t"}}},
  {"data": {"name": "tx"}, "transform": [{"filter": "datum.p == 'c' && datum.k == 'gs'"}], "mark": {"type": "text", "fontSize": 12, "color": "#666666", "align": "left", "baseline": "middle"}, "encoding": {"text": {"field": "t"}}},
  {"data": {"name": "tx"}, "transform": [{"filter": "datum.p == 'c' && datum.k == 'kn'"}], "mark": {"type": "text", "fontSize": 19, "color": "#000000", "align": "left", "baseline": "middle"}, "encoding": {"text": {"field": "t"}}},
  {"data": {"name": "tx"}, "transform": [{"filter": "datum.p == 'c' && datum.k == 'kb'"}], "mark": {"type": "text", "fontSize": 19, "fontWeight": "bold", "color": "#000000", "align": "left", "baseline": "middle"}, "encoding": {"text": {"field": "t"}}}
 ]
},
{
 "width": 478, "height": 358,
 "encoding": {
  "x": {"field": "x", "type": "quantitative", "scale": {"domain": [0.5, 10.5], "nice": false, "zero": false}, "axis": {"values": [1,2,3,4,5,6,7,8,9,10], "labelExpr": "'Subject ' + datum.value", "title": null, "labelAngle": -20, "labelAlign": "right", "labelBaseline": "top"}},
  "y": {"field": "y", "type": "quantitative", "scale": {"domain": [0, 600], "nice": false}, "axis": {"values": [0,100,200,300,400,500,600], "title": "Flowing leukocyte velocity [μm/sec]"}}
 },
 "layer": [
  {"data": {"name": "hdr"}, "transform": [{"filter": "datum.p == 'd' && datum.k == 'L'"}], "mark": {"type": "text", "font": "Liberation Serif", "fontWeight": "bold", "fontSize": 30, "color": "#000", "align": "left", "baseline": "alphabetic"}, "encoding": {"text": {"field": "t"}}},
  {"data": {"name": "db"}, "mark": {"type": "rule", "color": "#000000", "strokeDash": [3, 2], "strokeWidth": 1}, "encoding": {"y": {"field": "lo", "type": "quantitative", "title": "Flowing leukocyte velocity [μm/sec]"}, "y2": {"field": "hi"}}},
  {"data": {"name": "db"}, "mark": {"type": "bar", "size": 15, "stroke": "#444444", "strokeWidth": 1, "opacity": 1}, "encoding": {"y": {"field": "q1", "type": "quantitative", "title": "Flowing leukocyte velocity [μm/sec]"}, "y2": {"field": "q3"},
   "fill": {"field": "g", "type": "nominal", "scale": {"domain": ["F", "C"], "range": ["#efefef", "#8f8f8f"]},
    "legend": {"title": null, "labelExpr": "datum.value == 'F' ? 'Left Volar Forearm (n=25)' : 'Left Upper Chest (n=25)'", "labelFontSize": 14, "symbolSize": 225, "symbolType": "M-1,-1H4.6V1H-1Z", "symbolStrokeColor": "#444444", "symbolStrokeWidth": 1, "rowPadding": 3, "padding": 4, "symbolOffset": 0, "labelOffset": 30}}}},
  {"data": {"name": "db"}, "transform": [{"filter": "datum.g == 'F'"}], "mark": {"type": "tick", "orient": "horizontal", "size": 15, "thickness": 1.3, "color": "#a0a0a0"}, "encoding": {"y": {"field": "med", "type": "quantitative", "title": "Flowing leukocyte velocity [μm/sec]"}}},
  {"data": {"name": "db"}, "transform": [{"filter": "datum.g == 'C'"}], "mark": {"type": "tick", "orient": "horizontal", "size": 15, "thickness": 1.3, "color": "#333333"}, "encoding": {"y": {"field": "med", "type": "quantitative", "title": "Flowing leukocyte velocity [μm/sec]"}}},
  {"data": {"name": "db"}, "mark": {"type": "tick", "orient": "horizontal", "size": 5, "thickness": 1, "color": "#000000"}, "encoding": {"y": {"field": "lo", "type": "quantitative", "title": "Flowing leukocyte velocity [μm/sec]"}}},
  {"data": {"name": "db"}, "mark": {"type": "tick", "orient": "horizontal", "size": 5, "thickness": 1, "color": "#000000"}, "encoding": {"y": {"field": "hi", "type": "quantitative", "title": "Flowing leukocyte velocity [μm/sec]"}}},
  {"data": {"name": "dp"}, "mark": {"type": "point", "filled": true, "size": 6, "color": "#000000", "opacity": 1}}
 ]
},
{
 "width": 478, "height": 358,
 "encoding": {
  "x": {"field": "x", "type": "quantitative", "scale": {"domain": [0.25, 2.75], "nice": false, "zero": false}, "axis": {"values": [1, 2], "labelExpr": "datum.value == 1 ? ['Left Volar Forearm', '(N=10)'] : ['Left Upper Chest', '(N=10)']", "labelFontSize": 16.5, "labelLineHeight": 21, "title": null}},
  "y": {"field": "y", "type": "quantitative", "scale": {"domain": [0, 600], "nice": false}, "axis": {"values": [0,100,200,300,400,500,600], "title": "Average velocity per subject [μm/sec]", "titleFontSize": 20}}
 },
 "layer": [
  {"data": {"name": "hl"}, "transform": [{"filter": "datum.p == 'e'"}], "mark": {"type": "rule", "color": "#cccccc", "strokeWidth": 1}, "encoding": {"x2": {"field": "x2"}}},
  {"data": {"name": "hdr"}, "transform": [{"filter": "datum.p == 'e' && datum.k == 'h'"}], "mark": {"type": "text", "font": "Liberation Serif", "fontWeight": "bold", "fontSize": 19, "color": "#000", "baseline": "middle"}, "encoding": {"text": {"field": "t"}}},
  {"data": {"name": "hdr"}, "transform": [{"filter": "datum.p == 'e' && datum.k == 's'"}], "mark": {"type": "text", "fontSize": 15, "color": "#000", "baseline": "middle"}, "encoding": {"text": {"field": "t"}}},
  {"data": {"name": "hdr"}, "transform": [{"filter": "datum.p == 'e' && datum.k == 'L'"}], "mark": {"type": "text", "font": "Liberation Serif", "fontWeight": "bold", "fontSize": 30, "color": "#000", "align": "left", "baseline": "alphabetic"}, "encoding": {"text": {"field": "t"}}},
  {"data": {"name": "eb"}, "mark": {"type": "rule", "color": "#000000", "strokeDash": [4, 3], "strokeWidth": 1.5}, "encoding": {"y": {"field": "lo", "type": "quantitative", "title": "Average velocity per subject [μm/sec]"}, "y2": {"field": "q1"}}},
  {"data": {"name": "eb"}, "mark": {"type": "rule", "color": "#000000", "strokeDash": [4, 3], "strokeWidth": 1.5}, "encoding": {"y": {"field": "q3", "type": "quantitative", "title": "Average velocity per subject [μm/sec]"}, "y2": {"field": "hi"}}},
  {"data": {"name": "eb"}, "transform": [{"filter": "datum.g == 'F'"}], "mark": {"type": "bar", "size": 116, "fill": "#efefef", "stroke": "#000000", "strokeWidth": 2.2, "opacity": 1}, "encoding": {"y": {"field": "q1", "type": "quantitative", "title": "Average velocity per subject [μm/sec]"}, "y2": {"field": "q3"}}},
  {"data": {"name": "eb"}, "transform": [{"filter": "datum.g == 'C'"}], "mark": {"type": "bar", "size": 116, "fill": "#8c8c8c", "stroke": "#000000", "strokeWidth": 2.2, "opacity": 1}, "encoding": {"y": {"field": "q1", "type": "quantitative", "title": "Average velocity per subject [μm/sec]"}, "y2": {"field": "q3"}}},
  {"data": {"name": "eb"}, "mark": {"type": "tick", "orient": "horizontal", "size": 116, "thickness": 2.5, "color": "#000000"}, "encoding": {"y": {"field": "med", "type": "quantitative", "title": "Average velocity per subject [μm/sec]"}}},
  {"data": {"name": "eb"}, "mark": {"type": "tick", "orient": "horizontal", "size": 57, "thickness": 2.5, "color": "#000000"}, "encoding": {"y": {"field": "lo", "type": "quantitative", "title": "Average velocity per subject [μm/sec]"}}},
  {"data": {"name": "eb"}, "mark": {"type": "tick", "orient": "horizontal", "size": 57, "thickness": 2.5, "color": "#000000"}, "encoding": {"y": {"field": "hi", "type": "quantitative", "title": "Average velocity per subject [μm/sec]"}}},
  {"data": {"name": "ep"}, "transform": [{"filter": "datum.g == 'F'"}], "mark": {"type": "point", "shape": "square", "filled": true, "size": 49, "opacity": 1, "color": "#5a5a5a"}},
  {"data": {"name": "ep"}, "transform": [{"filter": "datum.g == 'C'"}], "mark": {"type": "point", "shape": "square", "filled": true, "size": 49, "opacity": 1, "color": "#111111"}},
  {"data": {"name": "ep"}, "mark": {"type": "point", "shape": "square", "filled": true, "opacity": 0},
   "encoding": {"fill": {"field": "g", "type": "nominal", "scale": {"domain": ["F", "C"], "range": ["#c4c4c4", "#000000"]},
    "legend": {"title": null, "labelExpr": "datum.value == 'F' ? 'Left Volar Forearm (N=10)' : 'Left Upper Chest (N=10)'", "labelFontSize": 17.5, "symbolSize": 40, "symbolType": "square", "symbolOpacity": 1, "symbolStrokeWidth": 0, "rowPadding": 5, "padding": 5, "symbolOffset": 10, "labelOffset": 17}}}},
  {"data": {"name": "tx"}, "transform": [{"filter": "datum.p == 'e' && datum.k == 'gn'"}], "mark": {"type": "text", "fontSize": 16, "color": "#666666", "align": "left", "baseline": "middle"}, "encoding": {"text": {"field": "t"}}},
  {"data": {"name": "tx"}, "transform": [{"filter": "datum.p == 'e' && datum.k == 'gb'"}], "mark": {"type": "text", "fontSize": 16, "fontWeight": "bold", "color": "#666666", "align": "left", "baseline": "middle"}, "encoding": {"text": {"field": "t"}}},
  {"data": {"name": "tx"}, "transform": [{"filter": "datum.p == 'e' && datum.k == 'kn'"}], "mark": {"type": "text", "fontSize": 16, "color": "#000000", "align": "left", "baseline": "middle"}, "encoding": {"text": {"field": "t"}}},
  {"data": {"name": "tx"}, "transform": [{"filter": "datum.p == 'e' && datum.k == 'kb'"}], "mark": {"type": "text", "fontSize": 16, "fontWeight": "bold", "color": "#000000", "align": "left", "baseline": "middle"}, "encoding": {"text": {"field": "t"}}},
  {"data": {"name": "tx"}, "transform": [{"filter": "datum.p == 'e' && datum.k == 'r'"}], "mark": {"type": "text", "fontSize": 17, "color": "#000000", "align": "left", "baseline": "middle"}, "encoding": {"text": {"field": "t"}}}
 ]
},
{
 "width": 478, "height": 358,
 "encoding": {
  "x": {"field": "x", "type": "quantitative", "scale": {"domain": [0, 600], "nice": false, "zero": false}, "axis": {"values": [0,100,200,300,400,500,600], "title": "Flowing leukocyte velocity [μm/sec]", "labelFontSize": 21}},
  "y": {"field": "y", "type": "quantitative", "scale": {"domain": [0, 40], "nice": false}, "axis": {"values": [0,10,20,30,40], "title": "Frequency", "labelFontSize": 21, "titleFontSize": 23, "titlePadding": 18}}
 },
 "layer": [
  {"data": {"name": "hdr"}, "transform": [{"filter": "datum.p == 'f' && datum.k == 'L'"}], "mark": {"type": "text", "font": "Liberation Serif", "fontWeight": "bold", "fontSize": 30, "color": "#000", "align": "left", "baseline": "alphabetic"}, "encoding": {"text": {"field": "t"}}},
  {"data": {"name": "fh"}, "transform": [{"filter": "datum.s == 'F'"}], "mark": {"type": "bar", "color": "#c8c8c8", "stroke": "#a8a8a8", "strokeWidth": 1, "opacity": 1}, "encoding": {"x2": {"field": "x2"}, "y2": {"datum": 0}}},
  {"data": {"name": "fh"}, "transform": [{"filter": "datum.s == 'C'"}], "mark": {"type": "bar", "color": "#555555", "stroke": "#2a2a2a", "strokeWidth": 1, "opacity": 1}, "encoding": {"x2": {"field": "x2"}, "y2": {"datum": 0}}},
  {"data": {"name": "fc"}, "transform": [{"filter": "datum.s == 'LF'"}], "mark": {"type": "line", "strokeWidth": 3, "color": "#c8c8c8"}},
  {"data": {"name": "fc"}, "transform": [{"filter": "datum.s == 'LC'"}], "mark": {"type": "line", "strokeWidth": 3, "color": "#3a3a3a"}},
  {"data": {"name": "fc"}, "mark": {"type": "point", "opacity": 0, "strokeWidth": 1},
   "encoding": {
    "shape": {"field": "s", "type": "nominal", "scale": {"domain": ["F", "C", "LF", "LC"], "range": ["M-1,-1H4.4V1H-1Z", "M-1,-1H4.4V1H-1Z", "M-1,-0.12H4.4V0.12H-1Z", "M-1,-0.12H4.4V0.12H-1Z"]},
     "legend": {"title": null, "labelExpr": "datum.value == 'F' ? 'Left Volar Forearm (n=232)' : datum.value == 'C' ? 'Left upper Chest (n=231)' : datum.value == 'LF' ? 'log-normal distribution (μ=4.2, σ=0.7)' : 'log-normal distribution (μ=4.7, σ=0.6)'", "labelFontSize": 17, "symbolSize": 256, "symbolOpacity": 1, "symbolStrokeWidth": 1, "rowPadding": 3, "padding": 5, "symbolOffset": 0, "labelOffset": 30}},
    "fill": {"field": "s", "type": "nominal", "scale": {"domain": ["F", "C", "LF", "LC"], "range": ["#c8c8c8", "#555555", "#c8c8c8", "#3a3a3a"]}, "legend": {"title": null}},
    "stroke": {"field": "s", "type": "nominal", "scale": {"domain": ["F", "C", "LF", "LC"], "range": ["#a8a8a8", "#222222", "#c8c8c8", "#3a3a3a"]}, "legend": {"title": null}}
   }},
  {"data": {"name": "tx"}, "transform": [{"filter": "datum.p == 'f' && datum.k == 'gn'"}], "mark": {"type": "text", "fontSize": 19, "color": "#666666", "align": "left", "baseline": "middle"}, "encoding": {"text": {"field": "t"}}},
  {"data": {"name": "tx"}, "transform": [{"filter": "datum.p == 'f' && datum.k == 'gb'"}], "mark": {"type": "text", "fontSize": 19, "fontWeight": "bold", "color": "#666666", "align": "left", "baseline": "middle"}, "encoding": {"text": {"field": "t"}}},
  {"data": {"name": "tx"}, "transform": [{"filter": "datum.p == 'f' && datum.k == 'kn'"}], "mark": {"type": "text", "fontSize": 19, "color": "#000000", "align": "left", "baseline": "middle"}, "encoding": {"text": {"field": "t"}}},
  {"data": {"name": "tx"}, "transform": [{"filter": "datum.p == 'f' && datum.k == 'kb'"}], "mark": {"type": "text", "fontSize": 19, "fontWeight": "bold", "color": "#000000", "align": "left", "baseline": "middle"}, "encoding": {"text": {"field": "t"}}}
 ]
}
],
"config": {
 "font": "Liberation Sans",
 "view": {"stroke": "#262626", "strokeWidth": 1.1},
 "axis": {"domain": false, "grid": false, "tickSize": -5, "tickColor": "#262626", "labelFontSize": 19, "labelColor": "#262626", "titleFontSize": 22, "titleFontWeight": "normal", "titleColor": "#262626", "labelFont": "Liberation Sans", "titleFont": "Liberation Sans", "labelOverlap": false},
 "axisX": {"labelPadding": 20, "titlePadding": 4},
 "axisY": {"labelPadding": 10, "titlePadding": 8},
 "legend": {"orient": "top-right", "offset": 12, "strokeColor": "#333333", "fillColor": "#ffffff", "labelFont": "Liberation Sans", "labelColor": "#1a1a1a", "labelLimit": 0}
}
}
